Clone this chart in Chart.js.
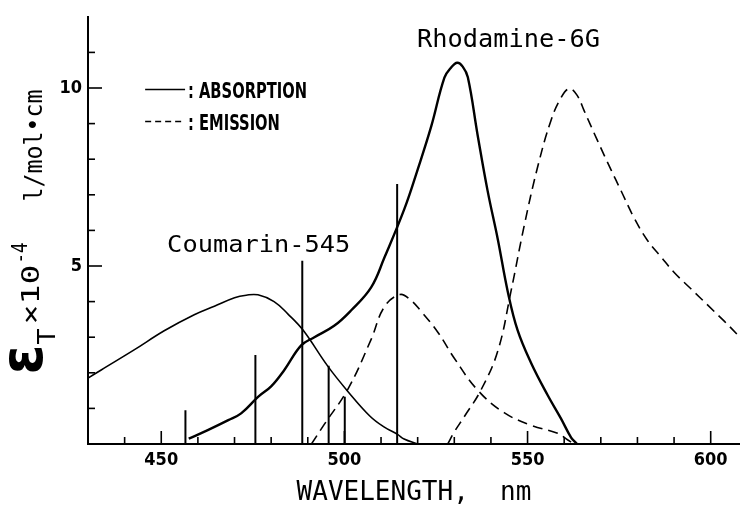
<!DOCTYPE html>
<html><head><meta charset="utf-8">
<script src="https://cdn.jsdelivr.net/npm/chart.js@4.4.1/dist/chart.umd.min.js"></script>
<style>html,body{margin:0;padding:0;background:#fff;}</style>
</head><body>
<canvas id="c" width="740" height="512"></canvas>
<script>
// ---- data (wavelength nm, epsilon x10^-4) ----
const coumarinAbsNm  = [430, 433.6, 442.7, 450.8, 459, 464.5, 470, 473.2, 476.4, 480.8, 484.6, 488.7, 495.5, 501, 507, 510.8, 514.5, 516.3, 520];
const coumarinAbsVal = [1.85, 2.08, 2.65, 3.18, 3.63, 3.87, 4.11, 4.18, 4.19, 4.0, 3.65, 3.2, 2.18, 1.47, 0.78, 0.48, 0.27, 0.14, 0];

const rhodamineAbsNm  = [457.5, 462.7, 468.3, 471.8, 476.5, 480, 483.6, 488.2, 491.8, 497.2, 501.8, 507.3, 510.9, 516.4, 520, 523.7, 527.3, 529.1, 530.8, 532.3, 533.7, 536.4, 539.1, 541.9, 544.6, 547.3, 551.0, 555.5, 559.1, 561.9, 563.5];
const rhodamineAbsVal = [0.15, 0.39, 0.67, 0.86, 1.33, 1.62, 2.08, 2.77, 3.0, 3.32, 3.75, 4.4, 5.23, 6.61, 7.71, 8.92, 10.29, 10.57, 10.71, 10.6, 10.3, 8.66, 7.11, 5.74, 4.28, 3.19, 2.27, 1.37, 0.72, 0.18, 0];

const coumarinEmNm  = [491, 494.5, 501, 507.3, 510.9, 515.2, 518, 521, 525.5, 530, 536.4, 543.6, 550.9, 558.2, 560.9, 562.7];
const coumarinEmVal = [0, 0.55, 1.55, 2.94, 3.85, 4.2, 4.05, 3.72, 3.14, 2.41, 1.51, 0.88, 0.53, 0.3, 0.12, 0];

const rhodamineEmNm  = [528.2, 530, 532.8, 537.3, 541.9, 545.5, 549.1, 552.8, 556.4, 559.1, 561.4, 563.5, 565.5, 569.1, 572.8, 575.5, 579.1, 582.8, 586.4, 590.1, 594.6, 599.2, 603.7, 608];
const rhodamineEmVal = [0, 0.34, 0.78, 1.52, 2.62, 4.3, 6.14, 7.8, 9.09, 9.72, 9.98, 9.8, 9.35, 8.52, 7.7, 7.12, 6.35, 5.71, 5.26, 4.81, 4.36, 3.9, 3.45, 3.0];

const laserNm  = [456.6, 475.7, 488.5, 495.7, 500.1, 514.4];
const laserVal = [0.95, 2.5, 5.15, 2.2, 1.33, 7.3];

const xTickLabels = [450, 500, 550, 600];
const yTickLabels = [5, 10];

// ---- helpers ----
const pts = (xs, ys) => xs.map((x, i) => ({x: x, y: ys[i]}));
const laserPts = [];
laserNm.forEach((x, i) => { laserPts.push({x: x, y: 0}, {x: x, y: laserVal[i]}, {x: x, y: null}); });

const condFamily = "'Liberation Sans Narrow','DejaVu Sans Condensed','DejaVu Sans',sans-serif";
const monoFont = "'DejaVu Sans Mono','Liberation Mono',monospace";

function fitText(ctx, text, x, y, w, font) {
  ctx.save();
  ctx.font = font;
  const m = ctx.measureText(text).width;
  ctx.translate(x, y);
  ctx.scale(w / m, 1);
  ctx.textAlign = 'left';
  ctx.textBaseline = 'alphabetic';
  ctx.fillStyle = '#000';
  ctx.fillText(text, 0, 0);
  ctx.restore();
}

const decor = {
  id: 'decor',
  afterDatasetsDraw(chart) {
    const ctx = chart.ctx, xs = chart.scales.x, ys = chart.scales.y, ca = chart.chartArea;
    const px = v => xs.getPixelForValue(v), py = v => ys.getPixelForValue(v);
    ctx.save();
    ctx.strokeStyle = '#000';
    ctx.lineWidth = 1.6;
    // inward tick marks
    for (let v = 440; v <= 600; v += 10) {
      const len = v % 50 === 0 ? 13 : 7;
      ctx.beginPath(); ctx.moveTo(px(v), ca.bottom); ctx.lineTo(px(v), ca.bottom - len); ctx.stroke();
    }
    for (let v = 1; v <= 11; v++) {
      const len = v % 5 === 0 ? 14 : 7;
      ctx.beginPath(); ctx.moveTo(ca.left, py(v)); ctx.lineTo(ca.left + len, py(v)); ctx.stroke();
    }
    // legend
    ctx.lineWidth = 1.5;
    ctx.beginPath(); ctx.moveTo(px(445.6), py(9.96)); ctx.lineTo(px(456.5), py(9.96)); ctx.stroke();
    ctx.setLineDash([6, 4]);
    ctx.beginPath(); ctx.moveTo(px(445.6), py(9.06)); ctx.lineTo(px(456.5), py(9.06)); ctx.stroke();
    ctx.setLineDash([]);
    const legFont = "bold 21px " + condFamily;
    fitText(ctx, ': ABSORPTION', px(457.3), py(9.72), px(489.8) - px(457.3), legFont);
    fitText(ctx, ': EMISSION', px(457.3), py(8.81), px(482.4) - px(457.3), legFont);
    // curve labels
    fitText(ctx, 'Rhodamine-6G', px(519.8), py(11.15), px(569.8) - px(519.8), '25px ' + monoFont);
    fitText(ctx, 'Coumarin-545', px(451.6), py(5.39), px(501.6) - px(451.6), '23px ' + monoFont);
    // y axis title (rotated)
    ctx.translate(ca.left - 46, py(1.95));
    ctx.rotate(-Math.PI / 2);
    fitText(ctx, 'ε', 0, 0, 30, "bold 58px 'DejaVu Sans',sans-serif");
    fitText(ctx, 'T', 30, 13, 16, '24px ' + monoFont);
    fitText(ctx, '×10', 50, -3, 60, '24px ' + monoFont);
    fitText(ctx, '-4', 111, -15, 21, '22px ' + monoFont);
    fitText(ctx, 'l/mol•cm', 173, 0, 112, '25px ' + monoFont);
    ctx.restore();
  }
};

const base = {borderColor: '#000', pointRadius: 0, showLine: true, fill: false, cubicInterpolationMode: 'default', tension: 0.4};

new Chart(document.getElementById('c'), {
  type: 'scatter',
  data: {
    datasets: [
      Object.assign({label: 'Coumarin-545 absorption', data: pts(coumarinAbsNm, coumarinAbsVal), borderWidth: 1.6}, base),
      Object.assign({label: 'Rhodamine-6G absorption', data: pts(rhodamineAbsNm, rhodamineAbsVal), borderWidth: 2.4}, base),
      Object.assign({label: 'Coumarin-545 emission', data: pts(coumarinEmNm, coumarinEmVal), borderWidth: 1.6, borderDash: [10, 6]}, base),
      Object.assign({label: 'Rhodamine-6G emission', data: pts(rhodamineEmNm, rhodamineEmVal), borderWidth: 1.6, borderDash: [10, 6]}, base),
      Object.assign({}, base, {label: 'Laser lines', data: laserPts, borderWidth: 2, tension: 0, spanGaps: false})
    ]
  },
  options: {
    responsive: false,
    animation: false,
    devicePixelRatio: 1,
    layout: {padding: {top: 8, left: 0, right: 0, bottom: 0}},
    plugins: {legend: {display: false}, tooltip: {enabled: false}},
    scales: {
      x: {
        type: 'linear', min: 430, max: 608,
        grid: {display: false, drawTicks: false},
        border: {display: true, color: '#000', width: 2},
        ticks: {stepSize: 10, includeBounds: false, color: '#000', font: {family: condFamily, size: 18, weight: 'bold'}, padding: 6, maxRotation: 0, autoSkip: false,
          callback: v => xTickLabels.includes(v) ? String(v) : ''},
        title: {display: true, text: 'WAVELENGTH,  nm', color: '#000', font: {family: monoFont, size: 26}, padding: {top: 0, bottom: 3}},
        afterFit: s => { s.height = 68; }
      },
      y: {
        type: 'linear', min: 0, max: 12,
        grid: {display: false, drawTicks: false},
        border: {display: true, color: '#000', width: 2},
        ticks: {stepSize: 1, color: '#000', font: {family: condFamily, size: 18, weight: 'bold'}, padding: 6, autoSkip: false,
          callback: v => yTickLabels.includes(v) ? String(v) : ''},
        afterFit: s => { s.width = 88; }
      }
    }
  },
  plugins: [decor]
});
</script>
</body></html>
